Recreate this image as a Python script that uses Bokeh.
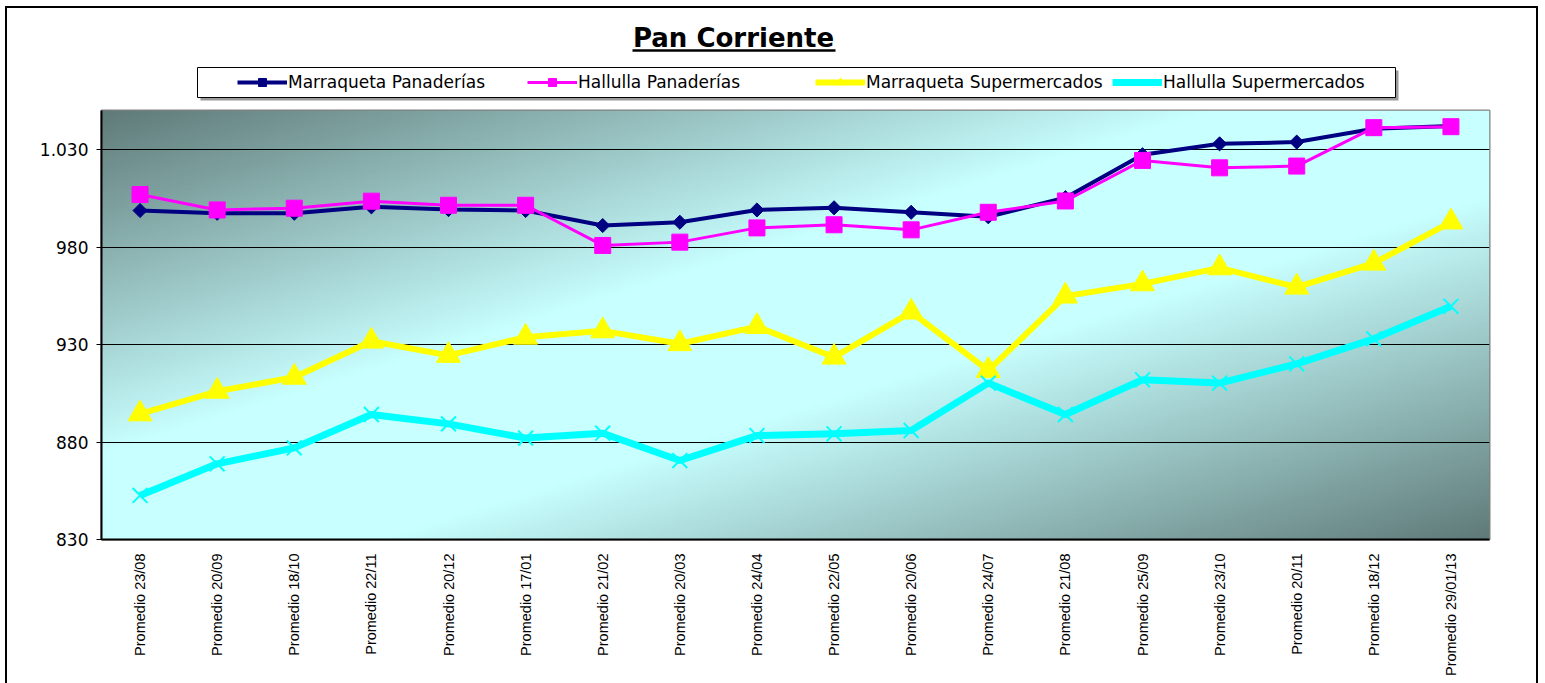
import numpy as np
from bokeh.plotting import figure
from bokeh.layouts import column
from bokeh.models import FactorRange, Range1d, FixedTicker, Legend, LegendItem
from bokeh.core.properties import value
from bokeh.embed import file_html
from bokeh.resources import INLINE

# ---------------- data ----------------
categories = [
    "Promedio 23/08", "Promedio 20/09", "Promedio 18/10", "Promedio 22/11",
    "Promedio 20/12", "Promedio 17/01", "Promedio 21/02", "Promedio 20/03",
    "Promedio 24/04", "Promedio 22/05", "Promedio 20/06", "Promedio 24/07",
    "Promedio 21/08", "Promedio 25/09", "Promedio 23/10", "Promedio 20/11",
    "Promedio 18/12", "Promedio 29/01/13",
]
marraqueta_panaderias = [998.7, 997.3, 997.3, 1000.6, 999.2, 998.7, 991.0, 992.7, 999.0,
                         1000.1, 997.8, 995.5, 1005.3, 1027.3, 1032.9, 1033.8, 1040.6, 1042.0]
hallulla_panaderias = [1006.9, 999.0, 999.9, 1003.5, 1001.4, 1001.4, 980.8, 982.5, 989.8,
                       991.4, 988.8, 997.8, 1003.6, 1024.4, 1020.6, 1021.5, 1041.2, 1041.7]
marraqueta_supermercados = [894.4, 906.0, 913.2, 931.7, 924.4, 933.7, 937.0, 930.4, 939.2,
                            923.5, 946.6, 916.7, 954.8, 961.1, 969.3, 959.4, 971.7, 992.8]
hallulla_supermercados = [852.6, 868.8, 877.0, 894.1, 889.3, 882.0, 884.5, 870.5, 883.3,
                          884.2, 885.9, 910.2, 894.1, 911.9, 910.2, 920.1, 932.9, 949.6]
series_names = ["Marraqueta Panaderías", "Hallulla Panaderías",
                "Marraqueta Supermercados", "Hallulla Supermercados"]
title_text = "Pan Corriente"
y_ticks = [830, 880, 930, 980, 1030]
y_tick_labels = ["830", "880", "930", "980", "1.030"]
y_min, y_max = 830, 1050

# series styles
styles = [
    dict(color="#000080", lw=4, marker="square", size=10, angle=np.pi / 4, mlw=1),
    dict(color="#ff00ff", lw=3, marker="square", size=16, angle=0.0, mlw=1),
    dict(color="#ffff00", lw=6, marker="triangle", size=24, angle=0.0, mlw=1),
    dict(color="#00ffff", lw=7, marker="x", size=21, angle=0.0, mlw=2),
]
series_values = [marraqueta_panaderias, hallulla_panaderias,
                 marraqueta_supermercados, hallulla_supermercados]

W = 1529
FRAME_L, FRAME_R = 101, 1489   # page x of the plot frame (header frame is aligned to it)
HDR_TOP, HDR_H = 8, 100

# ---------------- header (title + legend) ----------------
hdr = figure(width=W, height=HDR_H, x_range=Range1d(FRAME_L, FRAME_R),
             y_range=Range1d(HDR_TOP + HDR_H, HDR_TOP),
             output_backend="svg", toolbar_location=None,
             min_border_left=94, min_border_right=47, min_border_top=0, min_border_bottom=0)
hdr.axis.visible = False
hdr.grid.visible = False
hdr.outline_line_color = None
hdr.background_fill_color = "white"
hdr.border_fill_color = "white"

hdr.text(x=[733], y=[37], text=[title_text], text_font=value("DejaVu Sans"),
         text_font_style="bold", text_font_size="26px", text_align="center",
         text_baseline="alphabetic", text_color="black")
hdr.segment(x0=[632], y0=[50], x1=[835], y1=[50], line_color="black", line_width=2.5)

# legend frame with shadow
hdr.quad(left=[200], right=[1398], top=[70], bottom=[100], fill_color="#9a9a9a", line_color=None)
hdr.quad(left=[197], right=[1395], top=[67], bottom=[97], fill_color="white",
         line_color="black", line_width=1)

item_x = [136, 426, 714, 1011]
for name, st, x in zip(series_names, styles, item_x):
    rl = hdr.line([-100, -90], [-100, -100], line_color=st["color"], line_width=st["lw"])
    if st["marker"] == "x":
        rs = hdr.scatter([-100], [-100], marker="x", size=st["size"], line_color=st["color"],
                         line_width=st["mlw"])
    else:
        rs = hdr.scatter([-100], [-100], marker=st["marker"], size=st["size"], angle=st["angle"],
                         fill_color=st["color"], line_color=st["color"])
    hdr.add_layout(Legend(items=[LegendItem(label=name, renderers=[rl, rs])], location=(x, 16),
                          padding=0, margin=0, spacing=0, glyph_width=50, glyph_height=20,
                          label_standoff=1, label_height=20, label_text_font="DejaVu Sans",
                          label_text_font_size="17px", label_text_color="black",
                          border_line_color=None, background_fill_alpha=0))

# ---------------- main chart ----------------
p = figure(
    width=W, height=575,
    x_range=FactorRange(factors=categories),
    y_range=Range1d(y_min, y_max),
    output_backend="svg", toolbar_location=None,
    min_border_left=94, min_border_right=47, min_border_top=2, min_border_bottom=144,
)
p.border_fill_color = "white"
p.background_fill_color = "#c8ffff"
p.outline_line_color = "#808080"
p.outline_line_width = 2

# background gradient (dark corners top-left / bottom-right, light diagonal band)
GH, GW = 120, 480
jj, ii = np.mgrid[0:GH, 0:GW]
u = (ii + 0.5) / GW
v_top = 1.0 - (jj + 0.5) / GH
t = (u + v_top) / 2.0
lf = np.clip((1.0 - np.abs(2.0 * t - 1.0)) * 1.25, 0, 1)
dark = np.array([95, 122, 120], dtype=float)
light = np.array([200, 255, 255], dtype=float)
rgb = dark[None, None, :] + (light - dark)[None, None, :] * lf[..., None]
img = np.zeros((GH, GW), dtype=np.uint32)
view = img.view(dtype=np.uint8).reshape((GH, GW, 4))
view[..., 0] = rgb[..., 0].astype(np.uint8)
view[..., 1] = rgb[..., 1].astype(np.uint8)
view[..., 2] = rgb[..., 2].astype(np.uint8)
view[..., 3] = 255
p.image_rgba(image=[img], x=0, y=y_min, dw=len(categories), dh=y_max - y_min, level="image")

for vals, st in zip(series_values, styles):
    p.line(categories, vals, line_color=st["color"], line_width=st["lw"], line_join="round")
    if st["marker"] == "x":
        p.scatter(categories, vals, marker="x", size=st["size"], line_color=st["color"],
                  line_width=st["mlw"])
    else:
        p.scatter(categories, vals, marker=st["marker"], size=st["size"], angle=st["angle"],
                  fill_color=st["color"], line_color=st["color"])

# axes
p.xaxis.major_label_orientation = np.pi / 2
p.xaxis.major_tick_line_color = None
p.xaxis.minor_tick_line_color = None
p.xaxis.major_label_standoff = 8
p.xaxis.axis_line_color = "black"
p.xaxis.axis_line_width = 2
p.xaxis.major_label_text_font = "Liberation Sans"
p.xaxis.major_label_text_font_size = "14.5px"
p.xaxis.major_label_text_color = "black"
p.xgrid.visible = False

p.yaxis.ticker = FixedTicker(ticks=y_ticks)
p.yaxis.major_label_overrides = dict(zip(y_ticks, y_tick_labels))
p.yaxis.major_tick_out = 5
p.yaxis.major_tick_in = 0
p.yaxis.minor_tick_line_color = None
p.yaxis.major_label_standoff = 8
p.yaxis.axis_line_color = "black"
p.yaxis.axis_line_width = 2
p.yaxis.major_label_text_font = "DejaVu Sans"
p.yaxis.major_label_text_font_size = "17px"
p.yaxis.major_label_text_color = "black"
p.ygrid.ticker = FixedTicker(ticks=y_ticks)
p.ygrid.grid_line_color = "black"
p.ygrid.grid_line_width = 1
p.ygrid.grid_line_alpha = 1.0

layout = column(hdr, p, spacing=0,
                styles={"margin-left": "5px", "margin-top": "6px",
                        "border-left": "2px solid #000", "border-top": "2px solid #000",
                        "border-right": "2px solid #000"})

open("out.html", "w").write(file_html(layout, INLINE))
